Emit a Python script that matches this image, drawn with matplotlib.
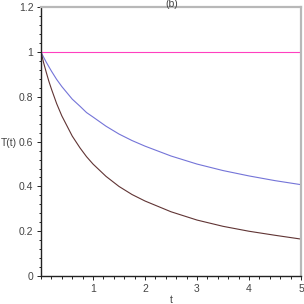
import matplotlib
matplotlib.use("Agg")
import matplotlib.pyplot as plt
from matplotlib.ticker import MultipleLocator

# values
t = [0, 0.05, 0.1, 0.15, 0.2, 0.3, 0.4, 0.5, 0.6, 0.75, 0.875, 1.0, 1.25, 1.5,
     1.75, 2.0, 2.5, 3.0, 3.5, 4.0, 4.5, 5.0]
t_flat = [1] * len(t)
t_blue = [1.0, 0.977, 0.955, 0.935, 0.915, 0.878, 0.846, 0.818, 0.79, 0.758,
          0.73, 0.71, 0.669, 0.634, 0.605, 0.58, 0.536, 0.50, 0.471, 0.447,
          0.426, 0.408]
t_brown = [1.0, 0.952, 0.91, 0.87, 0.835, 0.77, 0.715, 0.67, 0.625, 0.572,
           0.533, 0.50, 0.445, 0.40, 0.364, 0.335, 0.287, 0.25, 0.222, 0.20,
           0.182, 0.165]

x_ticks = [1, 2, 3, 4, 5]
y_ticks = [0, 0.2, 0.4, 0.6, 0.8, 1.0, 1.2]
y_labels = ["0", "0.2", "0.4", "0.6", "0.8", "1", "1.2"]

plt.rcParams["font.family"] = ["Liberation Sans", "DejaVu Sans"]

fig = plt.figure(figsize=(3.04, 3.04), dpi=100)
ax = fig.add_axes([0.135, 0.092, 0.855, 0.884])

ax.plot(t, t_flat, color="#ff40c0", linewidth=0.8)
ax.plot(t, t_blue, color="#7474d8", linewidth=0.8)
ax.plot(t, t_brown, color="#603434", linewidth=0.8)

ax.set_xlim(0, 5)
ax.set_ylim(0, 1.2)
ax.set_xticks(x_ticks)
ax.set_yticks(y_ticks)
ax.set_yticklabels(y_labels)
ax.xaxis.set_minor_locator(MultipleLocator(0.2))
ax.yaxis.set_minor_locator(MultipleLocator(0.04))

txt = "#444444"
ax.tick_params(which="both", direction="out", labelsize=7.5, labelcolor=txt, width=0.6)
ax.tick_params(which="major", length=3, pad=2.5)
ax.tick_params(which="minor", length=1.8)

for side in ["top", "right"]:
    ax.spines[side].set_color("#b8b8b8")
    ax.spines[side].set_linewidth(1.6)
for side in ["left", "bottom"]:
    ax.spines[side].set_color("#222222")
    ax.spines[side].set_linewidth(1.0)

fig.text(171 / 304, 1 - 300 / 304, "t", fontsize=7.5, color=txt, ha="center", va="center")
fig.text(1 / 304, 1 - 143 / 304, "T(t)", fontsize=7.5, color=txt, ha="left", va="center")
fig.text(172 / 304, 1 - 4 / 304, "(b)", fontsize=7.5, color=txt, ha="center", va="center")

fig.savefig("out.png", dpi=100)
